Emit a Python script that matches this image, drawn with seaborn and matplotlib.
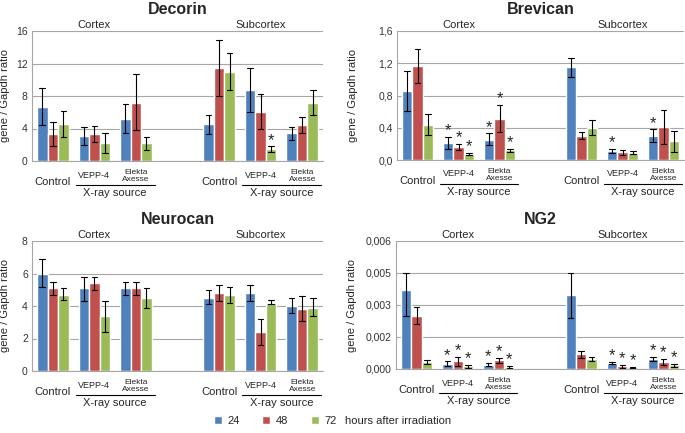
import matplotlib
matplotlib.use("Agg")
import matplotlib.pyplot as plt
import matplotlib.transforms as mtransforms
from matplotlib.patches import Patch
import pandas as pd
import seaborn as sns

sns.set_style("white")
plt.rcParams["font.family"] = ["Liberation Sans", "DejaVu Sans"]

# categories (the empty slot is the gap between cortex and subcortex)
groups = ["C_Control", "C_VEPP", "C_Elekta", "gap", "S_Control", "S_VEPP", "S_Elekta"]
data_groups = ["C_Control", "C_VEPP", "C_Elekta", "S_Control", "S_VEPP", "S_Elekta"]
hours = ["24", "48", "72"]
colors = ["#4F81BD", "#C0504D", "#9BBB59"]

# Decorin
decorin_mean = [[6.7, 3.3, 4.5], [3.1, 3.3, 2.2], [5.2, 7.2, 2.2],
                [4.5, 11.4, 11.0], [8.8, 6.0, 1.5], [3.4, 4.4, 7.2]]
decorin_lo = [[4.4, 1.9, 2.9], [2.0, 2.3, 1.0], [3.5, 3.8, 1.4],
              [3.3, 8.0, 8.8], [6.0, 3.9, 1.1], [2.6, 3.5, 5.7]]
decorin_hi = [[9.0, 4.8, 6.1], [4.2, 4.3, 3.4], [7.0, 10.7, 3.0],
              [5.7, 14.9, 13.3], [11.5, 8.2, 1.8], [4.2, 5.4, 8.7]]
decorin_star = [(4, 2)]

# Brevican
brevican_mean = [[0.86, 1.16, 0.44], [0.21, 0.16, 0.07], [0.25, 0.51, 0.12],
                 [1.15, 0.30, 0.40], [0.11, 0.10, 0.09], [0.30, 0.41, 0.23]]
brevican_lo = [[0.61, 0.95, 0.31], [0.14, 0.12, 0.06], [0.18, 0.35, 0.10],
               [1.03, 0.26, 0.31], [0.09, 0.06, 0.07], [0.22, 0.20, 0.10]]
brevican_hi = [[1.11, 1.38, 0.57], [0.29, 0.20, 0.09], [0.33, 0.68, 0.14],
               [1.27, 0.35, 0.50], [0.14, 0.13, 0.11], [0.38, 0.62, 0.36]]
brevican_star = [(1, 0), (1, 1), (1, 2), (2, 0), (2, 1), (2, 2), (4, 0), (5, 0)]

# Neurocan
neurocan_mean = [[6.0, 5.1, 4.7], [5.1, 5.4, 3.4], [5.1, 5.1, 4.5],
                 [4.5, 4.8, 4.7], [4.8, 2.4, 4.2], [4.0, 3.8, 3.9]]
neurocan_lo = [[5.2, 4.7, 4.4], [4.3, 5.0, 2.4], [4.7, 4.7, 3.9],
               [4.1, 4.3, 4.2], [4.3, 1.6, 4.1], [3.6, 3.1, 3.4]]
neurocan_hi = [[6.9, 5.5, 5.1], [5.8, 5.8, 4.3], [5.5, 5.5, 5.1],
               [5.0, 5.3, 5.2], [5.3, 3.2, 4.4], [4.5, 4.6, 4.5]]
neurocan_star = []

# NG2
ng2_mean = [[0.0037, 0.0025, 0.00033], [0.00025, 0.00036, 0.00012], [0.0002, 0.0004, 0.0001],
            [0.00347, 0.0007, 0.00047], [0.00028, 0.00012, 0.00008], [0.00047, 0.00034, 0.00017]]
ng2_lo = [[0.0025, 0.0021, 0.00025], [0.00016, 0.00012, 0.00006], [0.00012, 0.00028, 0.00006],
          [0.0024, 0.00051, 0.00036], [0.00022, 0.00005, 0.00005], [0.00036, 0.00020, 0.00011]]
ng2_hi = [[0.0045, 0.0029, 0.0004], [0.00036, 0.00056, 0.00018], [0.00029, 0.00051, 0.00014],
          [0.0045, 0.00084, 0.00056], [0.00034, 0.00020, 0.00011], [0.00058, 0.00048, 0.00023]]
ng2_star = [(1, 0), (1, 1), (1, 2), (2, 0), (2, 1), (2, 2), (4, 0), (4, 1), (4, 2), (5, 0), (5, 1), (5, 2)]

decorin_ticks = [0, 4, 8, 12, 16]
decorin_labels = ["0", "4", "8", "12", "16"]
brevican_ticks = [0, 0.4, 0.8, 1.2, 1.6]
brevican_labels = ["0,0", "0,4", "0,8", "1,2", "1,6"]
neurocan_ticks = [0, 2, 4, 6, 8]
neurocan_labels = ["0", "2", "4", "6", "8"]
ng2_ticks = [0, 0.0015, 0.003, 0.0045, 0.006]
ng2_labels = ["0,000", "0,002", "0,003", "0,005", "0,006"]


def long_table(mean, lo, hi):
    # three rows per bar; median = mean, min/max = error range
    rows = []
    for i, g in enumerate(data_groups):
        for j, h in enumerate(hours):
            for v in (lo[i][j], mean[i][j], hi[i][j]):
                rows.append({"group": g, "hours": h, "value": v})
    return pd.DataFrame(rows)


fig = plt.figure(figsize=(6.85, 4.33), dpi=100)
W, H = 685, 433


def px_axes(left, top, right, bottom):
    return fig.add_axes([left / W, 1 - bottom / H, (right - left) / W, (bottom - top) / H])


def draw_panel(ax, title, mean, lo, hi, stars, ticks, labels):
    df = long_table(mean, lo, hi)
    sns.barplot(data=df, x="group", y="value", hue="hours", order=groups, hue_order=hours,
                palette=colors, estimator="median", errorbar=("pi", 100), width=0.76,
                capsize=0.4, err_kws={"color": "black", "linewidth": 0.8},
                saturation=1, legend=False, ax=ax)
    ax.set_xlim(-0.5, 6.5)
    ax.set_ylim(ticks[0], ticks[-1])
    ax.set_yticks(ticks)
    ax.set_yticklabels(labels, fontsize=7.5, color="#333333")
    ax.set_ylabel("gene / Gapdh ratio", fontsize=8)
    ax.set_xlabel("")
    ax.set_xticks([k - 0.5 for k in range(8)])
    ax.set_xticklabels([])
    ax.tick_params(axis="x", direction="out", length=5, color="#999999", width=0.8)
    ax.tick_params(axis="y", length=0, pad=3)
    ax.grid(axis="y", color="#A6A6A6", linewidth=0.8)
    ax.set_axisbelow(True)
    for s in ("top", "right"):
        ax.spines[s].set_visible(False)
    ax.spines["left"].set_color("#A6A6A6")
    ax.spines["bottom"].set_color("#A6A6A6")
    ax.annotate(title, (0.5, 1), xycoords="axes fraction", xytext=(0, 22), textcoords="offset pixels",
                ha="center", va="center", fontsize=11.5, fontweight="bold")

    # significance stars
    for j, cont in enumerate(ax.containers):
        for bar in cont:
            cx = bar.get_x() + bar.get_width() / 2
            k = int(round(cx))
            if groups[k] == "gap":
                continue
            i = data_groups.index(groups[k])
            if (i, j) in stars:
                ax.annotate("*", (cx, hi[i][j]), xytext=(0, -1), textcoords="offset points",
                            ha="center", va="bottom", fontsize=12)

    # region labels
    tr = ax.get_xaxis_transform()
    for x, name in ((1, "Cortex"), (5, "Subcortex")):
        ax.annotate(name, (x, 1), xycoords=tr, xytext=(0, 6), textcoords="offset pixels",
                    ha="center", va="center", fontsize=8)

    # category labels under the axis
    for base in (0, 4):
        ax.annotate("Control", (base, 0), xycoords=tr, xytext=(0, -21), textcoords="offset pixels",
                    ha="center", va="center", fontsize=8)
        ax.annotate("VEPP-4", (base + 1, 0), xycoords=tr, xytext=(0, -14), textcoords="offset pixels",
                    ha="center", va="center", fontsize=6.5)
        ax.annotate("Elekta\nAxesse", (base + 2, 0), xycoords=tr, xytext=(0, -15), textcoords="offset pixels",
                    ha="center", va="center", fontsize=6, linespacing=0.95)
        ax.annotate("X-ray source", (base + 1.5, 0), xycoords=tr, xytext=(0, -32), textcoords="offset pixels",
                    ha="center", va="center", fontsize=8)
        line_tr = mtransforms.offset_copy(tr, fig=fig, y=-24, units="dots")
        ax.plot([base + 0.55, base + 2.45], [0, 0], color="black", linewidth=0.8,
                transform=line_tr, clip_on=False)


ax1 = px_axes(32, 31, 323, 161)
ax2 = px_axes(397, 31, 684, 160)
ax3 = px_axes(32, 241, 323, 371)
ax4 = px_axes(396, 241, 684, 369)

draw_panel(ax1, "Decorin", decorin_mean, decorin_lo, decorin_hi, decorin_star, decorin_ticks, decorin_labels)
draw_panel(ax2, "Brevican", brevican_mean, brevican_lo, brevican_hi, brevican_star, brevican_ticks, brevican_labels)
draw_panel(ax3, "Neurocan", neurocan_mean, neurocan_lo, neurocan_hi, neurocan_star, neurocan_ticks, neurocan_labels)
draw_panel(ax4, "NG2", ng2_mean, ng2_lo, ng2_hi, ng2_star, ng2_ticks, ng2_labels)

for ax in (ax1, ax3):
    ax.yaxis.set_label_coords(-22 / 291, 0.5)
for ax in (ax2, ax4):
    ax.yaxis.set_label_coords(-39 / 288, 0.5)

handles = [Patch(facecolor=c, label=h) for c, h in zip(colors, hours)]
fig.legend(handles=handles, loc="center left", bbox_to_anchor=(208 / W, 1 - 421 / H), ncol=3,
           frameon=False, fontsize=8, handlelength=0.75, handleheight=0.75,
           handletextpad=0.5, columnspacing=2.0, borderpad=0)
fig.text(345 / W, 1 - 421 / H, "hours after irradiation", ha="left", va="center", fontsize=8)

fig.savefig("out.png", dpi=100)
